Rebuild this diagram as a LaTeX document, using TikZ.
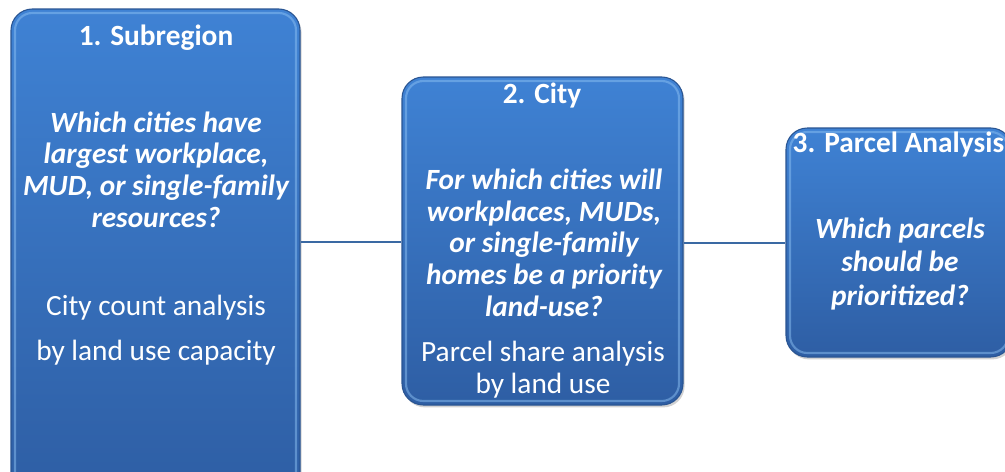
\documentclass[tikz,border=0pt]{standalone}
\usepackage{fontspec}
\setmainfont{Carlito}
\usetikzlibrary{shadows}

\definecolor{boxtop}{HTML}{3F82D4}
\definecolor{boxbot}{HTML}{2E5EA4}
\definecolor{boxrim}{HTML}{2A5592}
\definecolor{bevel}{HTML}{8CC0F2}
\definecolor{link}{HTML}{3A69A3}

\tikzset{
    every node/.style={text=white},
    stage/.style={rounded corners=16pt, draw=boxrim, line width=0.8pt,
        top color=boxtop, bottom color=boxbot,
        drop shadow={opacity=0.35, shadow xshift=1.2pt, shadow yshift=-1.8pt}},
    rim/.style={rounded corners=13pt, draw=bevel, line width=1.6pt, opacity=0.5},
    title/.style={anchor=base, font=\bfseries\fontsize{22}{24}\selectfont},
    % multi-line nodes sit on the baseline of their last line
    question/.style={anchor=base, align=center, font=\bfseries\itshape\fontsize{22}{23.7}\selectfont},
    method/.style={anchor=base, align=center, font=\fontsize{22}{23.3}\selectfont}
}

\begin{document}
\begin{tikzpicture}[x=0.75pt, y=-0.75pt]

    \useasboundingbox (0,0) rectangle (1005,471);
    \clip (0,0) rectangle (1005,471);
    \fill[white] (0,0) rectangle (1005,471);

    % three stages
    \node[stage, minimum width=216.75pt, minimum height=364.5pt] (sub) at (155.5,252) {};
    \node[rim, minimum width=210.75pt, minimum height=358.5pt] (subrim) at (155.5,252) {};

    \node[stage, minimum width=210.75pt, minimum height=246pt] (city) at (542.5,241) {};
    \node[rim, minimum width=204.75pt, minimum height=240pt] (cityrim) at (542.5,241) {};

    \node[stage, minimum width=169.5pt, minimum height=171.75pt] (parcel) at (899,242.5) {};
    \node[rim, minimum width=163.5pt, minimum height=165.75pt] (parcelrim) at (899,242.5) {};

    % links
    \draw[link, line width=2pt] (sub.east |- 0,242) -- (city.west |- 0,242);
    \draw[link, line width=2pt] (city.east |- 0,243) -- (parcel.west |- 0,243);

    % texts
    \node[title] (subtitle) at (156,45) {1. Subregion};
    \node[question] (subq) at (156,227) {Which cities have\\largest workplace,\\MUD, or single-family\\resources?};
    \node[method, font=\fontsize{22}{33.75}\selectfont] (subm) at (156,360) {City count analysis\\by land use capacity};

    \node[title] (citytitle) at (542,103) {2. City};
    \node[question] (cityq) at (544,316) {For which cities will\\workplaces, MUDs,\\or single-family\\homes be a priority\\land-use?};
    \node[method] (citym) at (543,393) {Parcel share analysis\\by land use};

    \node[title, anchor=base west] (parceltitle) at (788,152) {3. Parcel Analysis};
    \node[question, font=\bfseries\itshape\fontsize{22}{25}\selectfont] (parcelq) at (900,305) {Which parcels\\should be\\prioritized?};

\end{tikzpicture}
\end{document}
